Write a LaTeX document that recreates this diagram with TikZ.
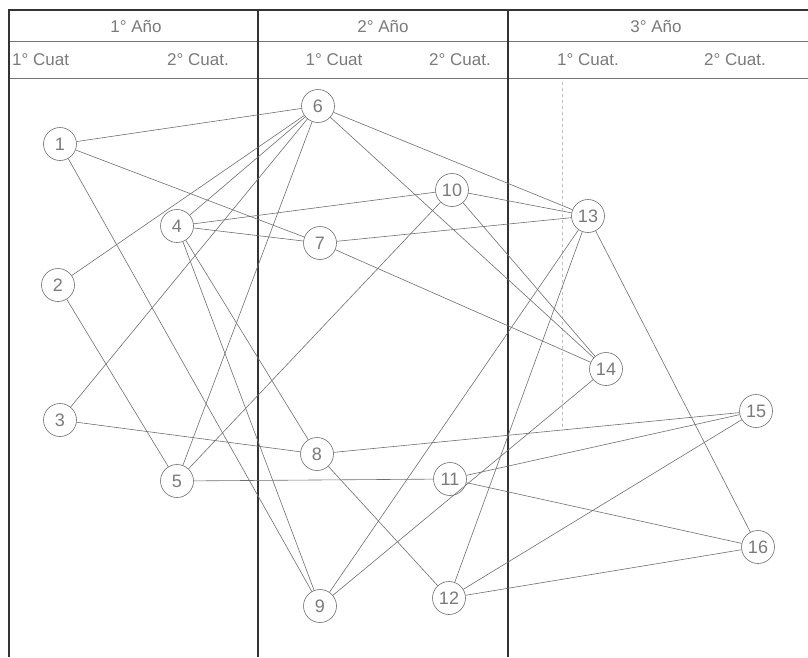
\documentclass[tikz,border=0pt]{standalone}
\usepackage{fontspec}
\setmainfont{Liberation Sans}
\definecolor{inkgray}{HTML}{6E6E6E}
\definecolor{txtgray}{HTML}{7A7A7A}
\tikzset{
  num/.style={circle, draw=inkgray, line width=0.6pt, minimum size=33pt, inner sep=0pt, font=\fontsize{18}{18}\selectfont, text=txtgray},
  edge/.style={draw=inkgray, line width=0.6pt},
  hdr/.style={font=\fontsize{17}{17}\selectfont, text=txtgray, inner sep=0pt},
  thickrule/.style={draw=black!80, line width=2.2pt},
  thinrule/.style={draw=black!55, line width=0.8pt}
}
\begin{document}
\begin{tikzpicture}[x=1pt,y=-1pt]
\useasboundingbox (0,0) rectangle (808,657);
% table frame
\draw[thickrule] (8,10) -- (808,10);
\draw[thinrule] (8,41) -- (808,41);
\draw[thinrule] (8,78) -- (808,78);
\draw[thickrule] (9,10) -- (9,657);
\draw[thickrule] (258,10) -- (258,657);
\draw[thickrule] (508,10) -- (508,657);
\draw[black!25, line width=0.6pt, dashed] (562,82) -- (562,430);
% headers
\node[hdr] (y1) at (136,26) {1° Año};
\node[hdr] (y2) at (383,26) {2° Año};
\node[hdr] (y3) at (656,26) {3° Año};
\node[hdr, anchor=west] (c11) at (12,60) {1° Cuat};
\node[hdr] (c12) at (198,60) {2° Cuat.};
\node[hdr] (c21) at (334,60) {1° Cuat};
\node[hdr] (c22) at (460,60) {2° Cuat.};
\node[hdr] (c31) at (588,60) {1° Cuat.};
\node[hdr] (c32) at (735,60) {2° Cuat.};
% nodes
\node[num] (n1) at (60,144) {1};
\node[num] (n2) at (58,285) {2};
\node[num] (n3) at (60,420) {3};
\node[num] (n4) at (177,226) {4};
\node[num] (n5) at (177,481) {5};
\node[num] (n6) at (318,106) {6};
\node[num] (n7) at (320,243) {7};
\node[num] (n8) at (317,454) {8};
\node[num] (n9) at (320,606) {9};
\node[num] (n10) at (452,190) {10};
\node[num] (n11) at (450,479) {11};
\node[num] (n12) at (449,598) {12};
\node[num] (n13) at (588,216) {13};
\node[num] (n14) at (606,369) {14};
\node[num] (n15) at (756,411) {15};
\node[num] (n16) at (758,547) {16};
% connectors
\foreach \a/\b in {1/6,1/7,1/9,2/6,2/5,3/6,3/8,4/6,4/10,4/7,4/8,4/9,5/6,5/10,5/11,
  6/13,6/14,7/13,7/14,8/12,8/15,9/13,9/14,10/13,10/14,11/15,11/16,12/13,12/15,12/16,13/16}
  \draw[edge] (n\a) -- (n\b);
\end{tikzpicture}
\end{document}
